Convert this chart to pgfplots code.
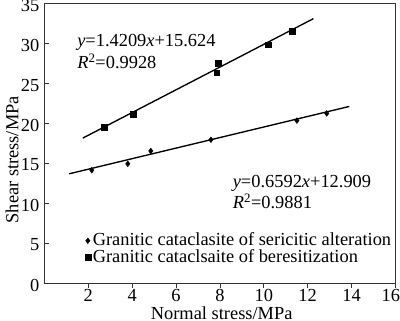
\documentclass[border=0pt]{standalone}
\usepackage{pgfplots}
\pgfplotsset{compat=1.18}
\usepackage{fontspec}
\setmainfont{Liberation Serif}
\begin{document}
\fontsize{18.4bp}{20bp}\selectfont
\begin{tikzpicture}
\useasboundingbox (-44.4bp,-38bp) rectangle (355.6bp,283bp);
\begin{axis}[
  at={(0,0)}, anchor=south west,
  scale only axis, width=351bp, height=280bp,
  xmin=0, xmax=16, ymin=0, ymax=35,
  xtick={2,4,...,16}, ytick={0,5,...,35},
  xticklabels={2,4,6,8,10,12,14,\hspace{-9bp}16},
  axis line style={line width=0.9bp, draw=black!80},
  tick style={line width=0.8bp, draw=black!80},
  xtick pos=bottom, ytick pos=left,
  xtick align=outside, ytick align=inside,
  major tick length=5bp,
  /pgf/number format/assume math mode=true,
  tick label style={font=\fontsize{18.4bp}{20bp}\selectfont, inner sep=1bp},
  yticklabel style={xshift=-4bp, yshift=-2bp},
  xticklabel style={yshift=0bp},
  label style={font=\fontsize{18.2bp}{20bp}\selectfont, inner sep=0pt},
  xlabel={Normal stress/MPa},
  ylabel={Shear stress/MPa},
  every axis x label/.style={at={(axis description cs:0.505,-0.108)},anchor=center},
  every axis y label/.style={at={(axis description cs:-0.092,0.44)},rotate=90,anchor=center},
  legend style={draw=none, fill=none, at={(axis description cs:0.115,0.121)}, anchor=west,
    font=\fontsize{18.4bp}{18bp}\selectfont, row sep=-3bp, inner sep=0pt},
  legend cell align=left,
  legend image code/.code={\draw[mark repeat=2,mark phase=2,#1] plot coordinates {(0bp,0bp)(3bp,0bp)(6bp,0bp)};},
  clip=false,
]
\addplot[only marks, mark=diamond*, mark size=2.9bp, black] coordinates {
(2.16,14.1) (3.80,14.9) (4.85,16.5) (7.59,17.9) (11.51,20.3) (12.87,21.2)};
\addlegendentry{Granitic cataclasite of sericitic alteration}
\addplot[only marks, mark=square*, mark size=2.9bp, black] coordinates {
(2.73,19.5) (4.04,21.1) (7.85,26.3) (7.93,27.5) (10.19,29.8) (11.29,31.5)};
\addlegendentry{Granitic cataclsaite of beresitization}
\addplot[black, line width=1.35bp, forget plot] coordinates {(1.75,18.11) (12.26,33.04)};
\addplot[black, line width=1.35bp, forget plot] coordinates {(1.13,13.65) (13.9,22.07)};
\node[anchor=west, inner sep=0pt] at (axis cs:1.49,30.1) {\textit{y}=1.4209\textit{x}+15.624};
\node[anchor=west, inner sep=0pt] at (axis cs:1.49,27.75) {\textit{R}\textsuperscript{2}=0.9928};
\node[anchor=west, inner sep=0pt] at (axis cs:8.58,12.46) {\textit{y}=0.6592\textit{x}+12.909};
\node[anchor=west, inner sep=0pt] at (axis cs:8.58,10.16) {\textit{R}\textsuperscript{2}=0.9881};
\end{axis}
\end{tikzpicture}
\end{document}
